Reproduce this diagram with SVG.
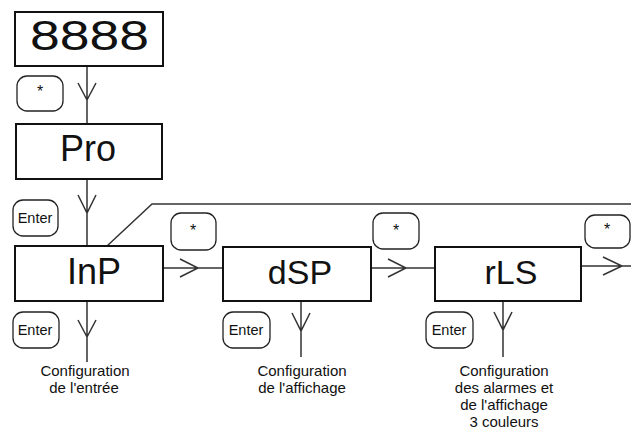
<svg xmlns="http://www.w3.org/2000/svg" width="631" height="429" viewBox="0 0 631 429">
<style>
.box{fill:#fff;stroke:#111;stroke-width:2}
.btn{fill:#fff;stroke:#222;stroke-width:1.3}
.ln{fill:none;stroke:#333;stroke-width:1.5}
.big{font-family:"Liberation Sans",Arial,sans-serif;fill:#111}
.bt{font-family:"Liberation Sans",Arial,sans-serif;font-size:14.5px;fill:#111;text-anchor:middle}
.st{font-family:"Liberation Sans",Arial,sans-serif;font-size:16px;fill:#111;text-anchor:middle}
.lb{font-family:"Liberation Sans",Arial,sans-serif;font-size:15px;fill:#111;text-anchor:middle}
</style>
<rect width="631" height="429" fill="#fff"/>
<g id="connectors">
<path class="ln" d="M87 66V124 M78 83L87 100L96 83"/>
<path class="ln" d="M87 179V246 M78 195L87 213L96 195"/>
<path class="ln" d="M107 246L152 204H631"/>
<path class="ln" d="M163 268H223 M180 259L198 268L180 277"/>
<path class="ln" d="M371 268H435 M388 259L406 268L388 277"/>
<path class="ln" d="M581 266H631 M603 257L622 266L603 275"/>
<path class="ln" d="M87 301V362 M78 320L87 337L96 320"/>
<path class="ln" d="M301 301V357 M292 313L301 331L310 313"/>
<path class="ln" d="M503 301V357 M494 312L503 330L512 312"/>
</g>
<g id="display">
<rect class="box" x="15" y="12" width="148" height="54"/>
<text class="big" x="30" y="50" font-size="42" textLength="119" lengthAdjust="spacingAndGlyphs">8888</text>
</g>
<g id="btn-star1"><rect class="btn" x="17" y="76" width="46" height="35" rx="10"/><text class="st" x="40" y="97">*</text></g>
<g id="pro">
<rect class="box" x="16" y="124" width="146" height="55"/>
<text class="big" x="88" y="161" font-size="36" text-anchor="middle">Pro</text>
</g>
<g id="btn-enter0"><rect class="btn" x="13" y="200" width="45" height="36" rx="10"/><text class="bt" x="35" y="222.5">Enter</text></g>
<g id="inp">
<rect class="box" x="15" y="246" width="148" height="55"/>
<text class="big" x="94" y="284" font-size="36" text-anchor="middle">InP</text>
</g>
<g id="btn-star2"><rect class="btn" x="171" y="213" width="45" height="37" rx="10"/><text class="st" x="193" y="236">*</text></g>
<g id="dsp">
<rect class="box" x="223" y="247" width="148" height="54"/>
<text class="big" x="300" y="284" font-size="34" text-anchor="middle">dSP</text>
</g>
<g id="btn-star3"><rect class="btn" x="373" y="213" width="46" height="36" rx="10"/><text class="st" x="396" y="236">*</text></g>
<g id="rls">
<rect class="box" x="435" y="247" width="146" height="54"/>
<text class="big" x="511" y="284" font-size="34" text-anchor="middle">rLS</text>
</g>
<g id="btn-star4"><rect class="btn" x="585" y="215" width="45" height="33" rx="10"/><text class="st" x="607" y="235">*</text></g>
<g id="btn-enter1"><rect class="btn" x="13" y="312" width="46" height="36" rx="10"/><text class="bt" x="35" y="335">Enter</text></g>
<g id="btn-enter2"><rect class="btn" x="223" y="312" width="47" height="36" rx="10"/><text class="bt" x="246" y="335">Enter</text></g>
<g id="btn-enter3"><rect class="btn" x="426" y="312" width="47" height="36" rx="10"/><text class="bt" x="449" y="335">Enter</text></g>
<g id="label-inp"><text class="lb" x="85" y="376">Configuration</text><text class="lb" x="84" y="393">de l'entrée</text></g>
<g id="label-dsp"><text class="lb" x="302" y="376">Configuration</text><text class="lb" x="302" y="393">de l'affichage</text></g>
<g id="label-rls"><text class="lb" x="504" y="376">Configuration</text><text class="lb" x="504" y="393">des alarmes et</text><text class="lb" x="504" y="410">de l'affichage</text><text class="lb" x="504" y="427">3 couleurs</text></g>
</svg>
